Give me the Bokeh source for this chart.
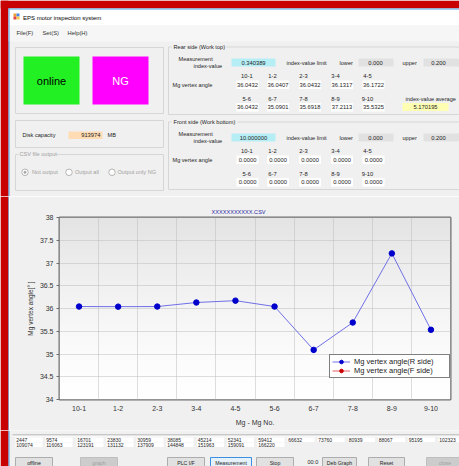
import numpy as np
from bokeh.plotting import figure
from bokeh.models import (Range1d, FixedTicker, NumeralTickFormatter, Legend,
                          LegendItem, ColumnDataSource)
from bokeh.layouts import column, row
from bokeh.core.properties import value
from bokeh.embed import file_html
from bokeh.resources import INLINE

# ---------------- chart data ----------------
pairs = ["10-1", "1-2", "2-3", "3-4", "4-5", "5-6", "6-7", "7-8", "8-9", "9-10"]
r_side = [36.0432, 36.0407, 36.0432, 36.1317, 36.1722, 36.0432, 35.0901, 35.6918, 37.2113, 35.5325]
f_side = [0.0, 0.0, 0.0, 0.0, 0.0, 0.0, 0.0, 0.0, 0.0, 0.0]
y_ticks = [34, 34.5, 35, 35.5, 36, 36.5, 37, 37.5, 38]
series_names = ["Mg vertex angle(R side)", "Mg vertex angle(F side)"]
csv_name = "XXXXXXXXXXX.CSV"

# ---------------- panel values ----------------
rear_index = "0.340389"
rear_average = "5.170195"
front_index = "10.000000"
limit_lower = "0.000"
limit_upper = "0.200"
disk_capacity = "913974"
counter_row1 = ["2447", "9574", "16701", "23830", "30959", "38085", "45214", "52341",
                "59412", "66632", "73760", "80939", "88067", "95195", "102323"]
counter_row2 = ["109074", "116063", "123191", "131132", "137909", "144848", "151963",
                "159091", "166220"]
buttons = ["offline", "graph", "PLC I/F", "Measurement", "Stop", "Deb Graph", "Reset", "close"]

FONT = "Liberation Sans"
BG = "#f0f0f0"
RED = "#c80000"
BLUE = "#4a9fe0"
W = 459


def ui_fig(w, h, x0, x1, y0, y1):
    f = figure(width=w, height=h, x_range=Range1d(x0, x1), y_range=Range1d(y1, y0),
               x_axis_location=None, y_axis_location=None, toolbar_location=None,
               output_backend="svg", min_border=0, outline_line_color=None,
               background_fill_color=BG, border_fill_color=BG, frame_align=False)
    f.grid.visible = False
    return f


def txt(f, x, y, s, size=5.6, color="#1e1e1e", align="left"):
    f.text(x=[x], y=[y], text=[s], text_font=value(FONT), text_font_size=value(f"{size}px"),
           text_color=color, text_align=align, text_baseline="middle")


def box(f, l, r, t, b, fill, line=None, lw=1):
    f.quad(left=[l], right=[r], top=[t], bottom=[b], fill_color=fill,
           line_color=line, line_width=lw)


# ================= top part (window y 0..196) =================
top = ui_fig(W, 196, 0, W, 0, 196)
box(top, 0, W, 0, 8, RED)
box(top, 0, 8, 0, 196, RED)
box(top, 8, W, 8, 25, "#ffffff")
box(top, 8, W, 25, 41, "#f6f6f6")
top.segment(x0=[8], y0=[8.5], x1=[W], y1=[8.5], line_color=BLUE)
top.segment(x0=[8.5], y0=[8], x1=[8.5], y1=[196], line_color=BLUE)
# icon
box(top, 13, 16, 13, 16, "#f0a030")
box(top, 16, 19, 13, 16, "#4a86e8")
box(top, 13, 16, 16, 19, "#e04040")
box(top, 16, 19, 16, 19, "#f2c94c")
txt(top, 22.5, 17.3, "EPS motor inspection system", 6, "#000000")
txt(top, 16, 32.5, "File(F)", 5.8, "#333333")
txt(top, 42, 32.5, "Set(S)", 5.8, "#333333")
txt(top, 67, 32.5, "Help(H)", 5.8, "#333333")

# status group
box(top, 15, 163, 47, 113, None, "#d6d6d6")
box(top, 23, 79, 56, 104, "#22f022")
txt(top, 51, 80.5, "online", 11, "#000000", "center")
box(top, 92, 148, 56, 104, "#ff00ff")
txt(top, 120, 80.5, "NG", 11, "#ffffff", "center")

# disk capacity
box(top, 15, 163, 120, 147, None, "#d6d6d6")
txt(top, 22, 134.5, "Disk capacity")
box(top, 68, 102, 131, 138.5, "#ffdcb4")
txt(top, 100, 134.8, disk_capacity, 5.8, "#1e1e1e", "right")
txt(top, 107, 134.5, "MB")

# csv output
box(top, 15, 163, 154, 190, None, "#d6d6d6")
box(top, 18, 56, 150, 158, BG)
txt(top, 19, 153.5, "CSV file output", 5.6, "#a0a0a0")
top.scatter(x=[24.5, 68.5, 111.5], y=[171.8, 171.8, 171.8], size=6.5,
            fill_color="#ffffff", line_color="#b4b4b4")
top.scatter(x=[24.5], y=[171.8], size=3, fill_color="#a8a8a8", line_color=None)
txt(top, 31.5, 171.8, "Not output", 5.6, "#a0a0a0")
txt(top, 74.5, 171.8, "Output all", 5.6, "#a0a0a0")
txt(top, 117, 171.8, "Output only NG", 5.6, "#a0a0a0")

HX = [246.3, 272, 303, 335, 367]
BX = [236, 266.5, 298.5, 330.5, 362]


def side_panel(dy, title, title_w, index_text, vals, avg):
    box(top, 168, 470, 46.5 + dy, 114 + dy, None, "#d6d6d6")
    box(top, 171, 173 + title_w, 42 + dy, 50 + dy, BG)
    txt(top, 173, 46 + dy, title)
    txt(top, 178, 58 + dy, "Measurement")
    txt(top, 193, 65 + dy, "index-value")
    box(top, 231, 275, 58 + dy, 66 + dy, "#b6eef6")
    txt(top, 253, 62.2 + dy, index_text, 5.8, "#1e1e1e", "center")
    txt(top, 286, 62 + dy, "index-value limit")
    txt(top, 339, 62 + dy, "lower")
    box(top, 358, 393, 58 + dy, 66 + dy, "#e1e1e1")
    txt(top, 375, 62.2 + dy, limit_lower, 5.8, "#1e1e1e", "center")
    txt(top, 402, 62 + dy, "upper")
    box(top, 423, 470, 58 + dy, 66 + dy, "#e1e1e1")
    txt(top, 438, 62.2 + dy, limit_upper, 5.8, "#1e1e1e", "center")
    txt(top, 172, 84 + dy, "Mg vertex angle")
    for i, lab in enumerate(pairs):
        col = i % 5
        ry = 0 if i < 5 else 22.5
        txt(top, HX[col], 75.5 + dy + ry, lab, 5.8, "#1e1e1e", "center")
        box(top, BX[col], BX[col] + 22, 80 + dy + ry, 88.5 + dy + ry, "#ffffff")
        txt(top, BX[col] + 11, 84.3 + dy + ry, "%.4f" % vals[i], 5.8, "#1e1e1e", "center")
    if avg is not None:
        txt(top, 405, 98 + dy, "index-value average")
        box(top, 402, 448, 102.5 + dy, 110.5 + dy, "#ffffb4")
        txt(top, 425, 106.6 + dy, avg, 5.8, "#1e1e1e", "center")


side_panel(0, "Rear side (Work top)", 53, rear_index, r_side, rear_average)
side_panel(75, "Front side (Work bottom)", 64, front_index, f_side, None)

# ================= chart (window y 196..430) =================
strip = ui_fig(9, 234, 0, 9, 196, 430)
box(strip, 0, 8, 196, 430, RED)
strip.segment(x0=[8.5], y0=[196], x1=[8.5], y1=[430], line_color=BLUE)

x = list(range(1, len(pairs) + 1))
src = ColumnDataSource(dict(x=x, r=r_side, f=f_side))

p = figure(width=W - 9, height=234, x_range=Range1d(0.5, len(pairs) + 0.5),
           y_range=Range1d(y_ticks[0], y_ticks[-1]), toolbar_location=None,
           output_backend="svg", min_border_left=50, min_border_right=9,
           min_border_top=21, min_border_bottom=31, frame_align=False,
           background_fill_color="#ffffff", border_fill_color=BG,
           outline_line_color="#6e6e6e", outline_line_width=2)

# soft vertical gradient of the plot area
H = 64
tt = np.linspace(0.0, 1.0, H)
g = (255 - 27 * tt ** 1.4).astype(np.uint8)
img = np.empty((H, 1), dtype=np.uint32)
view = img.view(dtype=np.uint8).reshape((H, 1, 4))
view[:, 0, 0] = g
view[:, 0, 1] = g
view[:, 0, 2] = g
view[:, 0, 3] = 255
p.image_rgba(image=[img], x=0.5, y=y_ticks[0], dw=len(pairs),
             dh=y_ticks[-1] - y_ticks[0], level="image")

p.title.text = csv_name
p.title.align = "left"
p.title.offset = 152
p.title.standoff = 5
p.title.text_font = FONT
p.title.text_font_size = "5.6px"
p.title.text_font_style = "normal"
p.title.text_color = "#2a2aa0"

p.xgrid.ticker = FixedTicker(ticks=[v + 0.5 for v in x[:-1]])
p.ygrid.ticker = FixedTicker(ticks=y_ticks)
p.grid.grid_line_color = "#bcbcbc"
p.grid.grid_line_dash = "1 1"

p.yaxis.ticker = FixedTicker(ticks=y_ticks)
p.yaxis.formatter = NumeralTickFormatter(format="0.[0]")
p.xaxis.ticker = FixedTicker(ticks=x)
p.xaxis.major_label_overrides = {v: lab for v, lab in zip(x, pairs)}
p.axis.axis_line_color = None
p.axis.minor_tick_line_color = None
p.yaxis.major_tick_out = 3
p.yaxis.major_tick_in = 0
p.yaxis.major_tick_line_color = "#6e6e6e"
p.xaxis.major_tick_out = 0
p.xaxis.major_tick_in = 0
p.axis.major_label_text_font = FONT
p.axis.major_label_text_font_size = "7px"
p.axis.major_label_text_color = "#333333"
p.yaxis.major_label_standoff = 3
p.xaxis.major_label_standoff = 6
p.yaxis.axis_label = "Mg vertex angle[° ]"
p.xaxis.axis_label = "Mg - Mg No."
p.axis.axis_label_text_font = FONT
p.axis.axis_label_text_font_style = "normal"
p.axis.axis_label_text_color = "#333333"
p.yaxis.axis_label_text_font_size = "6.5px"
p.xaxis.axis_label_text_font_size = "7px"
p.yaxis.axis_label_standoff = 3
p.xaxis.axis_label_standoff = 5

r_line = p.line("x", "r", source=src, line_color="#7070e8", line_width=1)
r_pts = p.scatter("x", "r", source=src, size=5.5, fill_color="#0000cc", line_color="#0000cc")
f_line = p.line("x", "f", source=src, line_color="#e06060", line_width=1)
f_pts = p.scatter("x", "f", source=src, size=5.5, fill_color="#cc0000", line_color="#cc0000")

legend = Legend(items=[LegendItem(label=series_names[0], renderers=[r_line, r_pts]),
                       LegendItem(label=series_names[1], renderers=[f_line, f_pts])],
                location=(270, 21))
legend.background_fill_color = "#ffffff"
legend.background_fill_alpha = 1.0
legend.border_line_color = "#000000"
legend.border_line_width = 1
legend.label_text_font = FONT
legend.label_text_font_size = "7.5px"
legend.label_text_color = "#222222"
legend.label_height = 9
legend.glyph_height = 9
legend.glyph_width = 18
legend.label_width = 93
legend.label_standoff = 4
legend.spacing = 0
legend.padding = 2
legend.margin = 0
p.add_layout(legend)

# ================= bottom part (window y 430..466) =================
bot = ui_fig(W, 36, 0, W, 430, 466)
box(bot, 0, 8, 430, 466, RED)
bot.segment(x0=[8.5], y0=[430], x1=[8.5], y1=[466], line_color=BLUE)
bot.segment(x0=[12], y0=[434.5], x1=[W], y1=[434.5], line_color="#a0a0a0")
bot.segment(x0=[12], y0=[435.5], x1=[W], y1=[435.5], line_color="#ffffff")
CX = [15, 45, 76, 106, 136, 166, 196.5, 226.5, 257, 287, 317, 347.5, 377.5, 407.5, 438]
for i, s in enumerate(counter_row1):
    box(bot, CX[i], CX[i] + 27, 437, 441.6, "#ffffff")
    txt(bot, CX[i] + 0.7, 439.3, s, 5, "#1e1e1e")
for i, s in enumerate(counter_row2):
    box(bot, CX[i], CX[i] + 27, 442, 446.6, "#ffffff")
    txt(bot, CX[i] + 0.7, 444.4, s, 5, "#1e1e1e")
BL = [15, 80, 167, 210, 256, 322, 368, 426]
BR = [52, 117, 204, 251, 293, 356, 404, 463]
for i, s in enumerate(buttons):
    dis = s in ("graph", "close")
    fill = "#e5f1fb" if s == "Measurement" else ("#cccccc" if dis else "#e1e1e1")
    line = "#3c8ee0" if s == "Measurement" else ("#bfbfbf" if dis else "#adadad")
    box(bot, BL[i], BR[i], 457, 470, fill, line)
    txt(bot, (BL[i] + BR[i]) / 2, 462.5, s, 5.2, "#a0a0a0" if dis else "#1e1e1e", "center")
txt(bot, 307, 461.5, "00:0", 5.5, "#1e1e1e")

layout = column(top, row(strip, p), bot)
open("out.html", "w").write(file_html(layout, INLINE, title="EPS motor inspection system"))
